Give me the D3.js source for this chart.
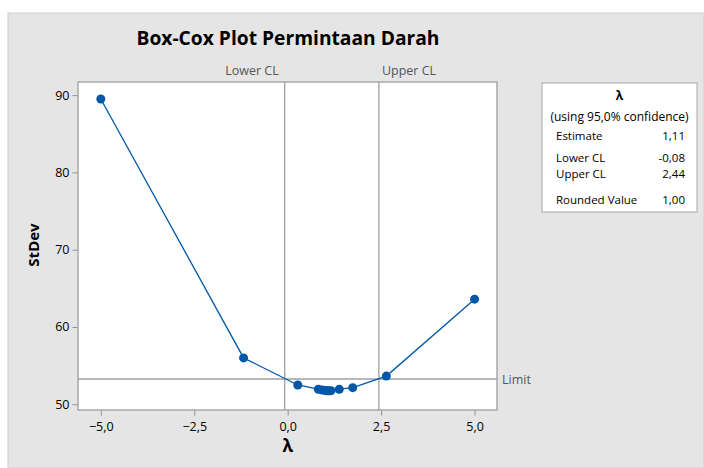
<!DOCTYPE html>
<html>
<head>
<meta charset="utf-8">
<script src="https://cdn.jsdelivr.net/npm/d3@7"></script>
<style>
  html, body { margin: 0; padding: 0; background: #fff; }
  text { font-family: "Open Sans", "Noto Sans", sans-serif; }
</style>
</head>
<body>
<div id="chart"></div>
<script>
// Box-Cox values
const lambdas = [-5, -1.18, 0.27, 0.82, 0.92, 1.01, 1.06, 1.11, 1.16, 1.38, 1.74, 2.64, 5];
const stdevs = [89.5, 56.0, 52.5, 51.95, 51.85, 51.78, 51.75, 51.74, 51.76, 51.95, 52.15, 53.65, 63.6];
const xTicks = [-5, -2.5, 0, 2.5, 5];
const yTicks = [50, 60, 70, 80, 90];
const lowerCL = -0.08;
const upperCL = 2.44;
const limit = 53.27;
const tableRows = [
  ['Estimate', '1,11'],
  ['Lower CL', '-0,08'],
  ['Upper CL', '2,44'],
  ['Rounded Value', '1,00'],
];

const W = 704, H = 468;
const plot = { left: 78, top: 82, right: 497, bottom: 410 };
const blue = '#0057a8';
const fmt = (v) => d3.format('.1f')(v).replace('.', ',');

const svg = d3.select('#chart').append('svg')
  .attr('width', W)
  .attr('height', H);

svg.append('rect')
  .attr('x', 8).attr('y', 13)
  .attr('width', W - 8).attr('height', H - 13)
  .attr('fill', '#e5e5e5')
  .attr('stroke', '#d0d0d0');

const x = d3.scaleLinear().domain([-5.61, 5.6]).range([plot.left, plot.right]);
const y = d3.scaleLinear().domain([49.26, 91.7]).range([plot.bottom, plot.top]);

svg.append('rect')
  .attr('x', plot.left).attr('y', plot.top)
  .attr('width', plot.right - plot.left).attr('height', plot.bottom - plot.top)
  .attr('fill', '#fff')
  .attr('stroke', '#a8a8a8')
  .attr('stroke-width', 1.5);

// title
svg.append('text')
  .attr('x', 288).attr('y', 45)
  .attr('text-anchor', 'middle')
  .attr('font-size', 20)
  .attr('font-weight', 'bold')
  .attr('textLength', 303)
  .attr('lengthAdjust', 'spacingAndGlyphs')
  .text('Box-Cox Plot Permintaan Darah');

// axes
const xAxis = svg.append('g')
  .attr('transform', `translate(0,${plot.bottom + 0.5})`)
  .call(d3.axisBottom(x).tickValues(xTicks).tickFormat(fmt).tickSize(5).tickPadding(4));
const yAxis = svg.append('g')
  .attr('transform', `translate(${plot.left - 0.5},0)`)
  .call(d3.axisLeft(y).tickValues(yTicks).tickSize(5).tickPadding(3));
[xAxis, yAxis].forEach(g => {
  g.select('.domain').remove();
  g.selectAll('line').attr('stroke', '#909090');
  g.selectAll('text').attr('font-size', 12.5).attr('fill', '#000')
    .attr('font-weight', 500)
    .style('font-family', '"Open Sans", sans-serif');
});
xAxis.selectAll('text').attr('dy', '0.9em');

svg.append('text')
  .attr('transform', 'translate(39,245) rotate(-90)')
  .attr('text-anchor', 'middle')
  .attr('font-size', 15)
  .attr('font-weight', 'bold')
  .text('StDev');

svg.append('text')
  .attr('x', x(0)).attr('y', 452)
  .attr('text-anchor', 'middle')
  .attr('font-size', 17)
  .attr('font-weight', 'bold')
  .text('λ');

// reference lines
const refs = svg.append('g').attr('stroke', '#a0a0a0').attr('stroke-width', 1.3);
[lowerCL, upperCL].forEach(v => {
  refs.append('line')
    .attr('x1', x(v)).attr('x2', x(v))
    .attr('y1', plot.top).attr('y2', plot.bottom);
});
refs.append('line')
  .attr('x1', plot.left).attr('x2', plot.right)
  .attr('y1', y(limit)).attr('y2', y(limit));

svg.append('text')
  .attr('x', x(lowerCL) - 6).attr('y', 75)
  .attr('text-anchor', 'end')
  .attr('font-size', 12.5).attr('fill', '#555')
  .text('Lower CL');
svg.append('text')
  .attr('x', x(upperCL) + 3).attr('y', 75)
  .attr('font-size', 12.5).attr('fill', '#555')
  .text('Upper CL');
svg.append('text')
  .attr('x', plot.right + 5).attr('y', y(limit) + 5)
  .attr('font-size', 12.5).attr('fill', '#555')
  .text('Limit');

// data
const pts = lambdas.map((l, i) => ({ l, s: stdevs[i] }));
svg.append('path')
  .datum(pts)
  .attr('fill', 'none')
  .attr('stroke', blue)
  .attr('stroke-width', 1.3)
  .attr('d', d3.line().x(d => x(d.l)).y(d => y(d.s)));
svg.append('g')
  .selectAll('circle')
  .data(pts)
  .enter().append('circle')
    .attr('cx', d => x(d.l))
    .attr('cy', d => y(d.s))
    .attr('r', 4.5)
    .attr('fill', blue);

// lambda table
const box = { x: 542, y: 83, w: 155, h: 129 };
const tbl = svg.append('g');
tbl.append('rect')
  .attr('x', box.x).attr('y', box.y)
  .attr('width', box.w).attr('height', box.h)
  .attr('fill', '#fff')
  .attr('stroke', '#a8a8a8');
const cx = box.x + box.w / 2;
tbl.append('text')
  .attr('x', cx).attr('y', 100)
  .attr('text-anchor', 'middle')
  .attr('font-size', 12).attr('font-weight', 'bold')
  .text('λ');
tbl.append('text')
  .attr('x', cx).attr('y', 121)
  .attr('text-anchor', 'middle')
  .attr('font-size', 12)
  .attr('font-weight', 500)
  .text('(using 95,0% confidence)');
const rowY = [140, 162, 178, 204];
tableRows.forEach((r, i) => {
  tbl.append('text')
    .attr('x', 556).attr('y', rowY[i])
    .attr('font-size', 11.5)
    .attr('font-weight', 500)
    .text(r[0]);
  tbl.append('text')
    .attr('x', 685).attr('y', rowY[i])
    .attr('text-anchor', 'end')
    .attr('font-size', 11.5)
    .attr('font-weight', 500)
    .text(r[1]);
});
</script>
</body>
</html>
